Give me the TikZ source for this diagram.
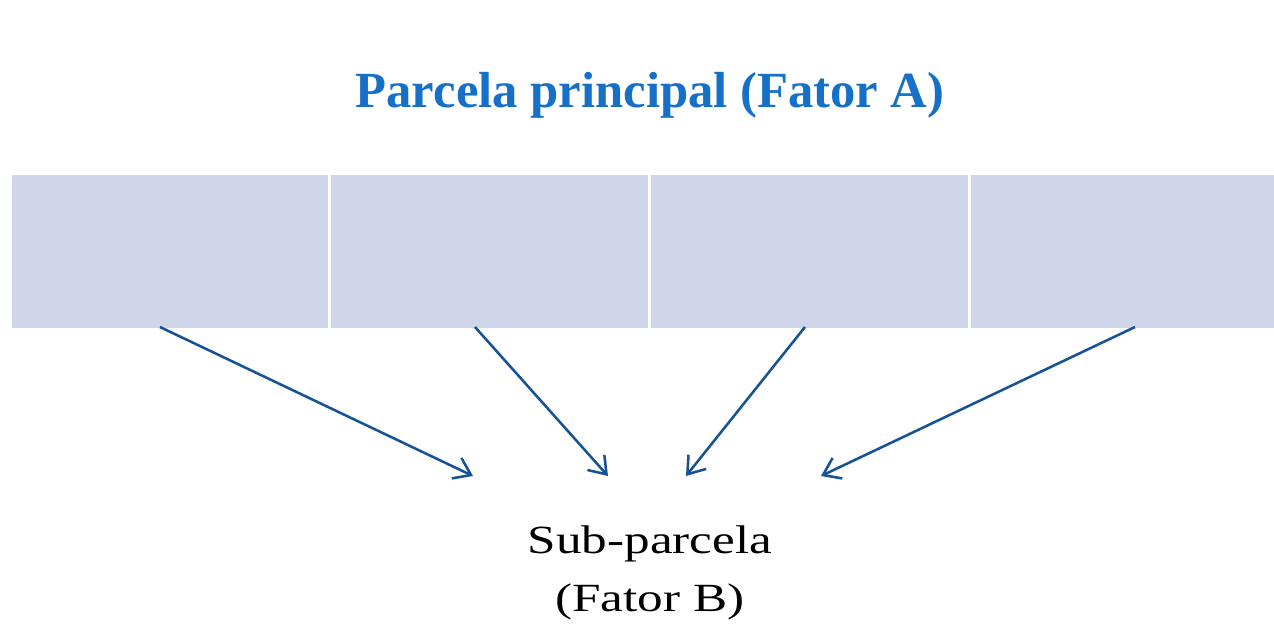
\documentclass[tikz,border=0pt]{standalone}
\usepackage{fontspec}
\setmainfont{Liberation Serif}
\newfontfamily\widerserif[FakeStretch=1.28]{Liberation Serif}
\usetikzlibrary{arrows.meta}
\definecolor{boxfill}{RGB}{207,214,233}
\definecolor{titleblue}{RGB}{22,112,200}
\definecolor{arrowblue}{RGB}{22,82,150}
\begin{document}
\begin{tikzpicture}[x=0.75pt,y=-0.75pt,
  plot/.style={fill=boxfill,draw=none,minimum height=153*0.75pt,inner sep=0pt,anchor=north west},
  arr/.style={draw=arrowblue,line width=1.9pt,-{Straight Barb[length=12pt,width=17pt,line width=1.9pt]}}]
\useasboundingbox (0,0) rectangle (1274,643);
\fill[white] (0,0) rectangle (1274,643);
\node[font=\bfseries\fontsize{38}{44}\selectfont,text=titleblue,anchor=base] (title) at (650,107) {Parcela principal (Fator A)};
\node[plot,minimum width=316*0.75pt] (b1) at (12,175) {};
\node[plot,minimum width=317*0.75pt] (b2) at (331,175) {};
\node[plot,minimum width=317*0.75pt] (b3) at (651,175) {};
\node[plot,minimum width=303*0.75pt] (b4) at (971,175) {};
\node[font=\widerserif\fontsize{30}{43}\selectfont,align=center] (sub) at (650,573) {Sub-parcela\\(Fator B)};
\coordinate (s1) at (160,327); \coordinate (e1) at (473,476);
\coordinate (s2) at (475,327); \coordinate (e2) at (608,476);
\coordinate (s3) at (805,327); \coordinate (e3) at (686,476);
\coordinate (s4) at (1135,327); \coordinate (e4) at (821,476);
\draw[arr] (s1) -- (e1);
\draw[arr] (s2) -- (e2);
\draw[arr] (s3) -- (e3);
\draw[arr] (s4) -- (e4);
\end{tikzpicture}
\end{document}
